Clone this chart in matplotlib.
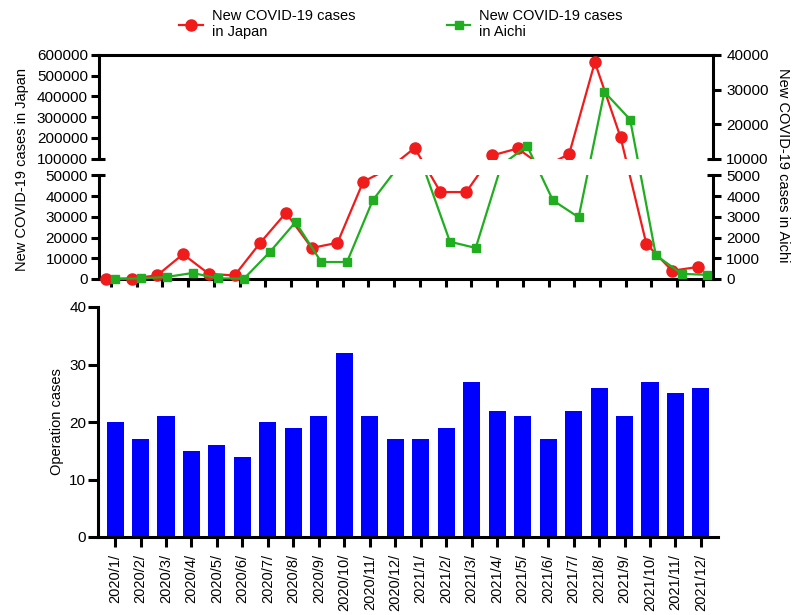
import numpy as np
import matplotlib
matplotlib.use('Agg')
import matplotlib.pyplot as plt
import matplotlib.ticker as mticker
import matplotlib.transforms as mtransforms

plt.rcParams['font.family'] = ['Liberation Sans', 'DejaVu Sans']
plt.rcParams['font.size'] = 10.5

# data
months = ['2020/1/', '2020/2/', '2020/3/', '2020/4/', '2020/5/', '2020/6/',
          '2020/7/', '2020/8/', '2020/9/', '2020/10/', '2020/11/', '2020/12/',
          '2021/1/', '2021/2/', '2021/3/', '2021/4/', '2021/5/', '2021/6/',
          '2021/7/', '2021/8/', '2021/9/', '2021/10/', '2021/11/', '2021/12/']
japan_cases = [50, 200, 1800, 12000, 2500, 1700, 17500, 32000, 15000, 17500, 47000, 70600,
               151000, 42000, 42000, 114500, 148500, 75000, 121000, 565000, 202000, 17000, 4000, 5800]
aichi_cases = [5, 30, 100, 290, 30, 20, 1300, 2750, 820, 820, 3800, 7650,
               6800, 1800, 1500, 8100, 13600, 3800, 2980, 29300, 21300, 1150, 250, 200]
operations = [20, 17, 21, 15, 16, 14, 20, 19, 21, 32, 21, 17,
              17, 19, 27, 22, 21, 17, 22, 26, 21, 27, 25, 26]

japan_breaks = [0, 50000, 100000, 600000]
aichi_breaks = [0, 5000, 10000, 40000]

RED = '#f01c1c'
GREEN = '#20ae20'
BLUE = '#0000ff'
LW = 2.2

W, H = 795, 615
fig = plt.figure(figsize=(W / 100, H / 100), dpi=100)


def px_axes(left, top, right, bottom):
    return fig.add_axes([left / W, 1 - bottom / H, (right - left) / W, (bottom - top) / H])


# broken axis: two segments of equal height with a gap between them
gap = 17 / 103.5
seg = [0, 1, 1 + gap, 2 + gap]


def broken_scale(breaks):
    return (lambda v: np.interp(v, breaks, seg),
            lambda t: np.interp(t, seg, breaks))


x = np.arange(len(months))

ax_hi = px_axes(99, 55, 713, 158.5)
ax_lo = px_axes(99, 175.5, 713, 279)

handles = []
for ax in (ax_hi, ax_lo):
    ax.set_yscale('function', functions=broken_scale(japan_breaks))
    tw = ax.twinx()
    tw.set_yscale('function', functions=broken_scale(aichi_breaks))
    ln_jp, = ax.plot(x - 0.2, japan_cases, color=RED, marker='o', ms=8, lw=1.6, zorder=3)
    ln_ai, = tw.plot(x + 0.17, aichi_cases, color=GREEN, marker='s', ms=6, lw=1.6, zorder=3)
    if ax is ax_lo:
        # let the markers sitting on zero show in full
        for a, ln in ((ax, ln_jp), (tw, ln_ai)):
            ln.set_clip_path(None)
            ln.set_clip_box(mtransforms.TransformedBbox(
                mtransforms.Bbox([[0, -0.15], [1, 1]]), a.transAxes))
    handles = [ln_jp, ln_ai]
    ax.set_xlim(-0.466, 23.39)
    ax.spines['right'].set_visible(False)
    for s in ('left', 'right', 'top', 'bottom'):
        ax.spines[s].set_linewidth(LW)
        tw.spines[s].set_linewidth(LW)
    tw.spines['left'].set_visible(False)
    tw.spines['top'].set_visible(False)
    tw.spines['bottom'].set_visible(False)
    ax.yaxis.set_major_formatter(mticker.FormatStrFormatter('%d'))
    tw.yaxis.set_major_formatter(mticker.FormatStrFormatter('%d'))
    ax.tick_params(axis='y', which='major', length=5.5, width=LW, pad=2.5, labelsize=11)
    tw.tick_params(axis='y', which='major', length=5.5, width=LW, pad=4, labelsize=11)
    ax.tick_params(axis='y', which='minor', direction='in', length=4.5, width=LW)
    tw.tick_params(axis='y', which='minor', direction='in', length=4.5, width=LW)
    ax.yaxis.remove_overlapping_locs = False
    tw.yaxis.remove_overlapping_locs = False
    if ax is ax_hi:
        ax.set_ylim(100000, 600000)
        tw.set_ylim(10000, 40000)
        ax.set_yticks(range(100000, 600001, 100000))
        tw.set_yticks(range(10000, 40001, 10000))
        ax.yaxis.set_minor_locator(mticker.FixedLocator([100000]))
        tw.yaxis.set_minor_locator(mticker.FixedLocator([10000]))
        ax.spines['bottom'].set_visible(False)
        ax.tick_params(axis='x', bottom=False, labelbottom=False)
    else:
        ax.set_ylim(0, 50000)
        tw.set_ylim(0, 5000)
        ax.set_yticks(range(0, 50001, 10000))
        tw.set_yticks(range(0, 5001, 1000))
        ax.yaxis.set_minor_locator(mticker.FixedLocator([50000]))
        tw.yaxis.set_minor_locator(mticker.FixedLocator([5000]))
        ax.spines['top'].set_visible(False)
        ax.set_xticks(x)
        ax.tick_params(axis='x', length=5.5, width=LW, labelbottom=False)

fig.text(22 / W, 1 - 170 / H, 'New COVID-19 cases in Japan', rotation=90,
         ha='center', va='center')
fig.text(783 / W, 1 - 165 / H, 'New COVID-19 cases in Aichi', rotation=270,
         ha='center', va='center')

fig.legend(handles, ['New COVID-19 cases\nin Japan', 'New COVID-19 cases\nin Aichi'],
           loc='upper center', bbox_to_anchor=(401 / W, 1 - 2 / H), ncol=2,
           frameon=False, handlelength=1.6, handletextpad=0.6, columnspacing=6.3,
           borderpad=0, fontsize=10.5)

# operation cases bars
ax_bar = px_axes(98, 307, 718, 537)
ax_bar.bar(x, operations, width=0.67, color=BLUE)
ax_bar.set_xlim(-0.67, 23.67)
ax_bar.set_ylim(0, 40)
ax_bar.set_yticks(range(0, 41, 10))
ax_bar.set_xticks(x)
ax_bar.set_xticklabels(months, rotation=90)
ax_bar.spines['top'].set_visible(False)
ax_bar.spines['right'].set_visible(False)
ax_bar.spines['left'].set_linewidth(LW)
ax_bar.spines['bottom'].set_linewidth(LW)
ax_bar.tick_params(axis='y', length=7, width=LW, pad=1.5, labelsize=11)
ax_bar.tick_params(axis='x', length=7, width=LW, pad=5, labelsize=10.5)
ax_bar.set_ylabel('Operation cases', fontsize=10.5)

fig.savefig('out.png', dpi=100)
